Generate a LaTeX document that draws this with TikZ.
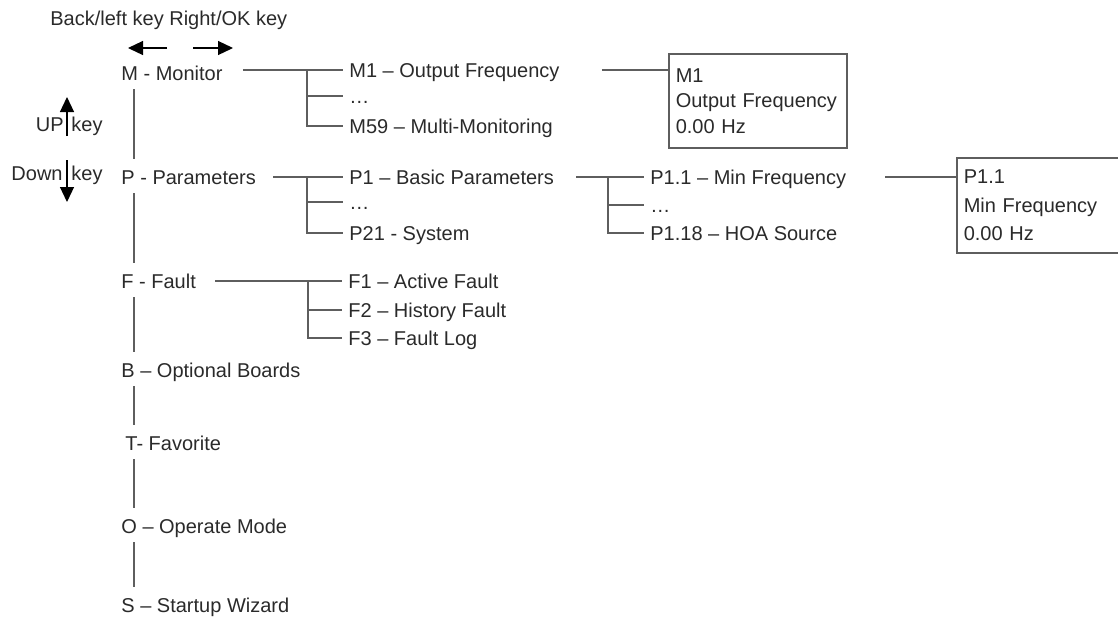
\documentclass[tikz,border=0pt]{standalone}
\usepackage{fontspec}
\setmainfont{Liberation Sans}
\usepackage{tikz}
\usetikzlibrary{arrows.meta}
\definecolor{ink}{HTML}{2A2A2A}
\definecolor{wire}{HTML}{5E5E5E}
\tikzstyle{entry} = [anchor=base west, inner xsep=3pt, inner ysep=0pt,
    text height=7.2pt, text depth=0pt, text=ink, font=\fontsize{10}{12}\selectfont]
\tikzstyle{keylabel} = [inner sep=0pt, text=ink, font=\fontsize{10}{12}\selectfont]
\tikzstyle{panel} = [rectangle, draw=wire, line width=0.8pt, anchor=north west,
    align=left, text=ink, inner xsep=3.5pt, text width=82pt]
\tikzstyle{link} = [draw=wire, line width=0.8pt]
\tikzstyle{stem} = [link, shorten <=4.5pt, shorten >=5pt]
\tikzstyle{keyarrow} = [draw=black, line width=0.6pt, -{Triangle[length=7.5pt,width=7pt]}]

\begin{document}
\begin{tikzpicture}[x=0.5pt, y=-0.5pt]
    \useasboundingbox (0,0) rectangle (1118,617);
    \clip (0,0) rectangle (1118,617);
    % Keys
    \node [keylabel, anchor=base west] at (50,25) (keys) {Back/left key Right/OK key};
    \coordinate (backtail) at (167,48);
    \coordinate (backtip) at (128,48);
    \coordinate (oktail) at (193,48);
    \coordinate (oktip) at (233,48);
    \coordinate (uptail) at (67,136);
    \coordinate (uptip) at (67,97);
    \coordinate (downtail) at (67,160);
    \coordinate (downtip) at (67,202);
    \node [keylabel, anchor=base east] at (64,131) (up) {UP};
    \node [keylabel, anchor=base west] at (71,131) (upkey) {key};
    \node [keylabel, anchor=base east] at (63,180) (down) {Down};
    \node [keylabel, anchor=base west] at (71,180) (downkey) {key};
    % Place nodes
    \node [entry] at (115,80) (m) {M - Monitor};
    \node [entry] at (115,184) (p) {P - Parameters};
    \node [entry] at (115,288) (f) {F - Fault};
    \node [entry] at (115,377) (b) {B – Optional Boards};
    \node [entry] at (119,450) (t) {T- Favorite};
    \node [entry] at (115,533) (o) {O – Operate Mode};
    \node [entry] at (115,612) (s) {S – Startup Wizard};
    \node [entry] at (343,77) (m1) {M1 – Output Frequency};
    \node [entry] at (343,103) (mdots) {\ldots};
    \node [entry] at (343,133) (m59) {M59 – Multi-Monitoring};
    \node [entry] at (343,184) (p1) {P1 – Basic Parameters};
    \node [entry] at (343,209) (pdots) {\ldots};
    \node [entry] at (343,240) (p21) {P21 - System};
    \node [entry] at (342,288) (f1) {F1 – Active Fault};
    \node [entry] at (342,317) (f2) {F2 – History Fault};
    \node [entry] at (342,345) (f3) {F3 – Fault Log};
    \node [entry] at (644,184) (p11) {P1.1 – Min Frequency};
    \node [entry] at (644,212) (p1dots) {\ldots};
    \node [entry] at (644,240) (p118) {P1.18 – HOA Source};
    \node [panel, font=\fontsize{10}{12.75}\selectfont, minimum height=47pt]
        at (668,53) (m1box) {M1\\Output Frequency\\0.00 Hz};
    \node [panel, font=\fontsize{10}{14.25}\selectfont, minimum height=47.5pt]
        at (956,157) (p11box) {P1.1\\Min Frequency\\0.00 Hz};
    % Draw edges
    \path [keyarrow] (backtail) -- (backtip);
    \path [keyarrow] (oktail) -- (oktip);
    \path [keyarrow] (uptail) -- (uptip);
    \path [keyarrow] (downtail) -- (downtip);
    \path [stem] ([xshift=9.5pt]m.south west) -- ([xshift=9.5pt]p.north west);
    \path [stem] ([xshift=9.5pt]p.south west) -- ([xshift=9.5pt]f.north west);
    \path [stem] ([xshift=9.5pt]f.south west) -- ([xshift=9.5pt]b.north west);
    \path [stem] ([xshift=9.5pt]b.south west) -- ([xshift=7.5pt]t.north west);
    \path [stem] ([xshift=7.5pt]t.south west) -- ([xshift=9.5pt]o.north west);
    \path [stem] ([xshift=9.5pt]o.south west) -- ([xshift=9.5pt]s.north west);
    \path [link, shorten <=7pt] (m.east |- m1.west) -- (m1.west);
    \path [link] ([xshift=-18pt]m1.west) |- (mdots.west);
    \path [link] ([xshift=-18pt]m1.west) |- (m59.west);
    \path [link, shorten <=5.5pt] (p.east |- p1.west) -- (p1.west);
    \path [link] ([xshift=-18pt]p1.west) |- (pdots.west);
    \path [link] ([xshift=-18pt]p1.west) |- (p21.west);
    \path [link, shorten <=6.5pt] (f.east |- f1.west) -- (f1.west);
    \path [link] ([xshift=-17pt]f1.west) |- (f2.west);
    \path [link] ([xshift=-17pt]f1.west) |- (f3.west);
    \path [link, shorten <=8pt] (p1.east) -- (p11.west);
    \path [link] ([xshift=-18pt]p11.west) |- (p1dots.west);
    \path [link] ([xshift=-18pt]p11.west) |- (p118.west);
    \path [link, shorten <=18pt] (m1.east) -- (m1.east -| m1box.west);
    \path [link, shorten <=16.5pt] (p11.east) -- (p11.east -| p11box.west);
\end{tikzpicture}
\end{document}
